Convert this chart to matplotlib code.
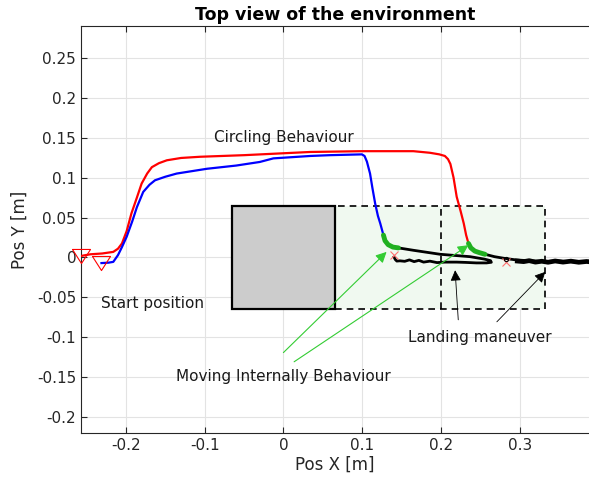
import numpy as np
import matplotlib.pyplot as plt
from matplotlib.patches import Rectangle

# drone trajectories, x / y in metres
red_x = [-0.2565, -0.245, -0.23, -0.216, -0.21, -0.205, -0.199, -0.193, -0.186, -0.18,
         -0.173, -0.167, -0.158, -0.148, -0.13, -0.106, -0.05, 0.034, 0.1, 0.165,
         0.186, 0.198, 0.205, 0.209, 0.212, 0.216, 0.22, 0.225, 0.229, 0.232, 0.235]
red_y = [0.002, 0.004, 0.005, 0.007, 0.011, 0.0175, 0.033, 0.055, 0.075, 0.0925,
         0.105, 0.113, 0.118, 0.1216, 0.1245, 0.126, 0.128, 0.132, 0.133, 0.133,
         0.131, 0.129, 0.127, 0.123, 0.117, 0.1, 0.076, 0.058, 0.0425, 0.028, 0.0175]

blue_x = [-0.231, -0.222, -0.216, -0.21, -0.205, -0.199, -0.192, -0.186, -0.178, -0.17,
          -0.163, -0.15, -0.1355, -0.097, -0.06, -0.03, -0.0127, 0.034, 0.059, 0.0996,
          0.103, 0.106, 0.11, 0.113, 0.1165, 0.12, 0.123, 0.127]
blue_y = [-0.007, -0.0065, -0.0055, 0.003, 0.013, 0.026, 0.045, 0.063, 0.082, 0.091,
          0.0966, 0.101, 0.105, 0.111, 0.115, 0.1195, 0.124, 0.127, 0.128, 0.129,
          0.127, 0.12, 0.105, 0.087, 0.0675, 0.052, 0.0425, 0.028]

# internal manoeuvre (green) for each drone
green_blue_x = [0.127, 0.129, 0.133, 0.139, 0.146]
green_blue_y = [0.028, 0.021, 0.016, 0.013, 0.012]
green_red_x = [0.235, 0.238, 0.243, 0.249, 0.256]
green_red_y = [0.0175, 0.012, 0.008, 0.006, 0.004]

# landing (black)
land_blue_x = [0.146, 0.165, 0.199, 0.237, 0.255, 0.263, 0.264, 0.258, 0.245, 0.232,
               0.22, 0.205, 0.195, 0.186, 0.178, 0.172, 0.166, 0.16, 0.154, 0.148,
               0.144, 0.142, 0.1405]
land_blue_y = [0.012, 0.009, 0.004, 0.001, -0.002, -0.004, -0.006, -0.0068, -0.0068, -0.0062,
               -0.0058, -0.0058, -0.0064, -0.0046, -0.0058, -0.0036, -0.0052, -0.003, -0.0048, -0.0042,
               -0.0045, -0.0025, 0.0005]
land_red_x = [0.256, 0.268, 0.28, 0.295, 0.31, 0.33, 0.35, 0.37, 0.39]
land_red_y = [0.004, 0.001, -0.001, -0.003, -0.004, -0.005, -0.0045, -0.0055, -0.005]
hover_x = [0.297, 0.305, 0.312, 0.32, 0.328, 0.336, 0.345, 0.355, 0.365, 0.375, 0.385, 0.39]
hover_y = [-0.0045, -0.0052, -0.004, -0.0058, -0.0047, -0.006, -0.0044, -0.0058, -0.0046, -0.006, -0.005, -0.0055]

start_x = [-0.2565, -0.231]
start_y = [0.002, -0.0065]
goal_x = [0.14, 0.282]
goal_y = [0.003, -0.006]

fig = plt.figure(figsize=(5.89, 4.82), dpi=100)
ax = fig.add_axes([0.1375, 0.101, 0.8625, 0.8457])

# obstacle and landing zones
ax.add_patch(Rectangle((0.065, -0.065), 0.2675, 0.13, facecolor='#f0f9f0',
                       edgecolor='none', zorder=1))
ax.add_patch(Rectangle((0.065, -0.065), 0.2675, 0.13, facecolor='none',
                       edgecolor='black', lw=1.2, ls=(0, (4, 3)), zorder=2))
ax.plot([0.2, 0.2], [-0.065, 0.065], color='black', lw=1.2, ls=(0, (4, 3)), zorder=2)
ax.add_patch(Rectangle((-0.065, -0.065), 0.13, 0.13, facecolor='#cccccc',
                       edgecolor='black', lw=1.6, zorder=3))

ax.plot(red_x, red_y, color='red', lw=1.6, zorder=4)
ax.plot(blue_x, blue_y, color='blue', lw=1.6, zorder=4)
ax.plot(land_blue_x, land_blue_y, color='black', lw=2.0, zorder=4)
ax.plot(land_red_x, land_red_y, color='black', lw=2.0, zorder=4)
ax.plot(hover_x, hover_y, color='black', lw=3.4, zorder=4)
ax.plot(green_blue_x, green_blue_y, color='#20b020', lw=3.5, solid_capstyle='round', zorder=5)
ax.plot(green_red_x, green_red_y, color='#20b020', lw=3.5, solid_capstyle='round', zorder=5)

tri = [(-1, 0.78), (1, 0.78), (0, -0.78), (-1, 0.78)]
ax.plot(start_x, start_y, ls='none', marker=tri, ms=13, mfc='none', mec='red',
        mew=0.8, zorder=6, clip_on=False)
ax.plot(goal_x, goal_y, ls='none', marker='x', ms=6, mec='#ff7070', mew=0.8, zorder=6)
ax.plot([0.282], [-0.0015], ls='none', marker='o', ms=3, mfc='none', mec='black',
        mew=0.8, zorder=6)

# annotations
green_arrow = dict(arrowstyle='-|>', color='#33cc33', lw=0.8, mutation_scale=16,
                   shrinkA=0, shrinkB=0)
ax.annotate('', xy=(0.131, 0.007), xytext=(0.0, -0.119), arrowprops=green_arrow, zorder=7)
ax.annotate('', xy=(0.235, 0.0154), xytext=(0.0136, -0.1305), arrowprops=green_arrow, zorder=7)
black_arrow = dict(arrowstyle='-|>', color='black', lw=0.6, mutation_scale=16,
                   shrinkA=0, shrinkB=0)
ax.annotate('', xy=(0.218, -0.016), xytext=(0.222, -0.078), arrowprops=black_arrow, zorder=7)
ax.annotate('', xy=(0.3325, -0.018), xytext=(0.271, -0.0805), arrowprops=black_arrow, zorder=7)

ax.text(0.0, 0.15, 'Circling Behaviour', fontsize=11, ha='center', va='center', color='#1a1a1a')
ax.text(-0.231, -0.057, 'Start position', fontsize=11, ha='left', va='center', color='#1a1a1a')
ax.text(0.0, -0.149, 'Moving Internally Behaviour', fontsize=11, ha='center', va='center',
        color='#1a1a1a')
ax.text(0.25, -0.1, 'Landing maneuver', fontsize=11, ha='center', va='center', color='#1a1a1a')

ax.set_xlim(-0.257, 0.388)
ax.set_ylim(-0.22, 0.29)
ax.set_xticks([-0.2, -0.1, 0, 0.1, 0.2, 0.3])
ax.set_xticklabels(['-0.2', '-0.1', '0', '0.1', '0.2', '0.3'])
yt = [-0.2, -0.15, -0.1, -0.05, 0, 0.05, 0.1, 0.15, 0.2, 0.25]
ax.set_yticks(yt)
ax.set_yticklabels(['-0.2', '-0.15', '-0.1', '-0.05', '0', '0.05', '0.1', '0.15', '0.2', '0.25'])
ax.grid(True, color='#e3e3e3', lw=0.8, zorder=0)
ax.set_axisbelow(True)
ax.tick_params(direction='in', length=4, width=0.8, colors='#262626', labelsize=11,
               top=True, right=False, labelcolor='#262626')
for side in ['left', 'bottom', 'top']:
    ax.spines[side].set_color('#262626')
    ax.spines[side].set_linewidth(0.8)
ax.spines['right'].set_visible(False)

ax.set_xlabel('Pos X [m]', fontsize=12, color='#262626', labelpad=2)
ax.set_ylabel('Pos Y [m]', fontsize=12, color='#262626', labelpad=6)
ax.set_title('Top view of the environment', fontsize=12.5, fontweight='bold', pad=4)

fig.savefig('out.png', dpi=100)
